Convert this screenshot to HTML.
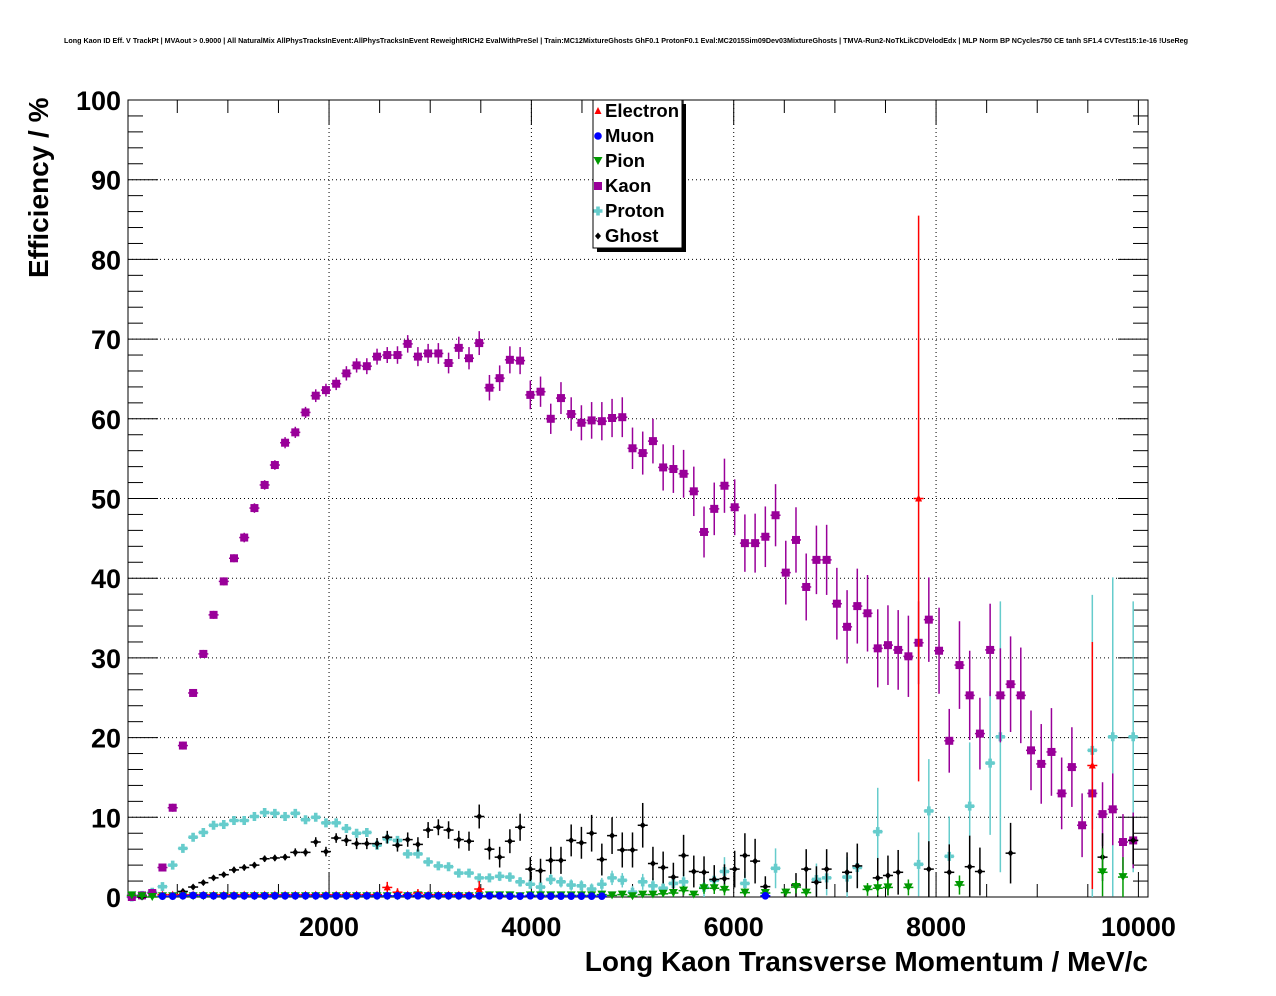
<!DOCTYPE html>
<html><head><meta charset="utf-8"><style>
body{margin:0;background:#fff;}
svg{display:block;font-family:"Liberation Sans",Arial,sans-serif;}
</style></head><body>
<svg id="chart" width="1276" height="996" viewBox="0 0 1276 996" xmlns="http://www.w3.org/2000/svg">
<rect width="1276" height="996" fill="#fff"/>
<text x="64" y="43" font-size="7" font-weight="bold" textLength="1124" lengthAdjust="spacingAndGlyphs">Long Kaon ID Eff. V TrackPt | MVAout &gt; 0.9000 | All NaturalMix AllPhysTracksInEvent:AllPhysTracksInEvent ReweightRICH2 EvalWithPreSel | Train:MC12MixtureGhosts GhF0.1 ProtonF0.1 Eval:MC2015Sim09Dev03MixtureGhosts | TMVA-Run2-NoTkLikCDVelodEdx | MLP Norm BP NCycles750 CE tanh SF1.4 CVTest15:1e-16 !UseReg</text>
<g id="grid"></g>
<g id="axes"></g>
<g id="marks"></g>
<text transform="translate(48,278) rotate(-90)" font-size="28" font-weight="bold">Efficiency / %</text>
<text x="1148" y="971" text-anchor="end" font-size="28" font-weight="bold">Long Kaon Transverse Momentum / MeV/c</text>
<g id="legend"></g>
</svg>
<script>
const xTicks=[2000,4000,6000,8000,10000];
const yTicks=[0,10,20,30,40,50,60,70,80,90,100];
const N=null;
const kaon=[0,0.2,0.5,3.7,11.2,19.0,25.6,30.5,35.4,39.6,42.5,45.1,48.8,51.7,54.2,57.0,58.3,60.8,62.9,63.6,64.4,65.7,66.7,66.6,67.8,68.0,68.0,69.4,67.8,68.2,68.2,67.0,68.9,67.6,69.5,63.9,65.1,67.4,67.3,63.0,63.4,60.0,62.6,60.6,59.5,59.8,59.7,60.1,60.2,56.3,55.7,57.2,53.9,53.7,53.1,50.9,45.8,48.7,51.6,48.9,44.4,44.4,45.2,47.9,40.7,44.8,38.9,42.3,42.3,36.8,33.9,36.5,35.6,31.2,31.6,31.0,30.2,31.9,34.8,30.9,19.6,29.1,25.3,20.5,31.0,25.3,26.7,25.3,18.4,16.7,18.2,13.0,16.3,9.0,13.0,10.4,11.0,6.9,7.1,N];
const kaonErr=[0,0.2,0.3,0.4,0.5,0.5,0.5,0.5,0.5,0.5,0.5,0.6,0.6,0.6,0.6,0.7,0.7,0.7,0.8,0.8,0.8,0.9,0.9,1,1,1,1.1,1.1,1.2,1.2,1.3,1.3,1.4,1.4,1.5,1.6,1.6,1.7,1.7,1.8,1.9,1.9,2,2.1,2.2,2.3,2.4,2.4,2.5,2.6,2.7,2.8,2.9,3,3,3.1,3.2,3.3,3.4,3.5,3.6,3.7,3.8,3.9,4,4.1,4.2,4.3,4.4,4.5,4.6,4.7,4.8,4.9,5,5,5.1,5.2,5.3,5.4,4,5.5,5.6,4.5,5.8,5.9,6,6,5,5,5.5,4.5,5,4,4.5,4,4.5,3.5,3.5,0];
const proton=[0,0.2,0.6,1.3,4.0,6.1,7.5,8.1,9.0,9.1,9.6,9.6,10.1,10.6,10.5,10.1,10.5,9.7,10.0,9.3,9.3,8.6,8.0,8.1,6.5,7.3,7.1,5.4,5.4,4.4,3.9,3.8,3.0,3.0,2.4,2.4,2.6,2.5,1.9,1.6,1.25,2.2,1.9,1.5,1.4,1.0,1.6,2.4,2.1,0.6,1.9,1.4,1.1,1.7,1.9,N,1.2,2.1,3.2,N,1.7,N,N,3.6,N,N,N,2.2,2.4,N,2.5,3.7,N,8.2,N,N,N,4.1,10.8,N,5.1,N,11.4,N,16.8,20.1,N,N,N,N,N,N,N,N,18.4,N,20.1,N,20.1,N];
const protonErr=[0,0.2,0.3,0.3,0.4,0.4,0.4,0.4,0.4,0.4,0.4,0.4,0.4,0.4,0.4,0.4,0.4,0.4,0.4,0.4,0.4,0.4,0.4,0.4,0.4,0.5,0.5,0.5,0.5,0.5,0.5,0.5,0.5,0.5,0.5,0.5,0.6,0.6,0.6,0.6,0.6,0.7,0.7,0.7,0.7,0.7,0.8,0.9,0.9,0.8,1,1,1,1.2,1.3,0,1.3,1.5,1.8,0,1.5,0,0,2.5,0,0,0,2,2.2,0,2.5,2.5,0,5.5,0,0,0,4,6.5,0,5,0,8,0,9,17,0,0,0,0,0,0,0,0,19.5,0,20,0,17,0];
const ghost=[N,0,N,N,N,0.7,1.25,1.8,2.4,2.8,3.4,3.7,4.0,4.8,4.9,5.0,5.6,5.6,6.9,5.7,7.4,7.1,6.7,6.7,6.7,7.5,6.5,7.2,6.6,8.4,8.75,8.4,7.2,7.0,10.1,6.0,5.0,7.0,8.75,3.5,3.3,4.6,4.6,7.1,6.8,8.0,4.7,7.7,5.9,5.9,9.0,4.2,3.7,2.5,5.2,3.2,3.1,2.2,2.3,3.5,5.2,4.5,1.3,N,N,1.5,3.5,1.85,3.5,N,3.1,3.9,N,2.4,2.7,3.1,N,N,3.5,N,3.1,N,3.8,3.2,N,N,5.5,N,N,N,N,N,N,N,N,5.0,N,N,7.1,N];
const ghostErr=[0,0.3,0,0,0,0.3,0.3,0.3,0.3,0.3,0.4,0.4,0.4,0.4,0.4,0.4,0.5,0.5,0.6,0.6,0.6,0.7,0.7,0.7,0.7,0.8,0.8,0.9,0.9,1,1,1.1,1.1,1.2,1.5,1.3,1.3,1.5,1.7,1.5,1.5,1.7,1.7,2,2,2.3,2,2.3,2.2,2.2,2.8,2.1,2,1.8,2.6,2,2,1.8,1.8,2.3,2.8,2.8,1.3,0,0,1.5,2.5,2,2.5,0,2.5,2.8,0,2.5,2.5,2.8,0,0,3.5,0,3.5,0,3.9,3,0,0,3.8,0,0,0,0,0,0,0,0,3,0,0,3,0];
const pion=[0.2,0.1,0,0.1,0.1,0.1,0.1,0.1,0.1,0.1,0.1,0.1,0.1,0.1,0.1,0.1,0.1,0.1,0.1,0.1,0.1,0.1,0.1,0.1,0.1,0.1,0.1,0.1,0.2,0.1,0.1,0.1,0.1,0.1,0.1,0.2,0.2,0.2,0.1,0.2,0.2,0.2,0.2,0.2,0.2,0.2,0.3,0.2,0.3,0.1,0.3,0.3,0.4,0.5,0.8,0.3,1.1,1.1,0.9,N,0.55,N,0.5,N,0.55,1.25,0.55,N,N,N,N,N,0.95,1.1,1.2,N,1.2,N,N,N,N,1.5,N,N,N,N,N,N,N,N,N,N,N,N,N,3.1,N,2.5,N,N];
const pionErr=[0.1,0.1,0,0.1,0.1,0.1,0.1,0.1,0.1,0.1,0.1,0.1,0.1,0.1,0.1,0.1,0.1,0.1,0.1,0.1,0.1,0.1,0.1,0.1,0.1,0.1,0.1,0.1,0.2,0.1,0.1,0.1,0.1,0.1,0.1,0.2,0.2,0.2,0.1,0.2,0.2,0.2,0.2,0.2,0.2,0.2,0.3,0.2,0.3,0.1,0.3,0.3,0.4,0.5,0.6,0.3,0.7,0.7,0.7,0,0.5,0,0.5,0,0.5,0.8,0.5,0,0,0,0,0,0.8,0.9,1,0,1,0,0,0,0,1.2,0,0,0,0,0,0,0,0,0,0,0,0,0,3,0,2.5,0,0];
const muon=[N,N,N,0.1,0.1,0.15,0.2,0.2,0.15,0.15,0.15,0.15,0.15,0.15,0.15,0.15,0.15,0.15,0.15,0.15,0.15,0.15,0.15,0.15,0.15,0.15,0.15,0.15,0.15,0.15,0.15,0.15,0.15,0.15,0.15,0.15,0.15,0.1,0.1,0.15,0.1,0.1,0.1,0.1,0.1,0.1,0.1,N,N,N,N,N,N,N,N,N,N,N,N,N,N,N,0.15,N,N,N,N,N,N,N,N,N,N,N,N,N,N,N,N,N,N,N,N,N,N,N,N,N,N,N,N,N,N,N,N,N,N,N,N,N];
const electron=[N,N,N,0.3,0.3,0.3,0.3,0.3,0.3,0.3,0.3,0.3,0.3,0.3,0.3,0.3,0.3,0.3,0.3,0.3,0.3,0.3,0.3,0.3,0.3,1.2,0.6,0.3,0.5,0.3,0.3,0.3,0.3,0.3,1.0,N,N,N,N,N,N,N,N,N,N,N,N,N,N,N,N,N,N,N,N,N,N,N,N,N,N,N,N,N,N,N,N,N,N,N,N,N,N,N,N,N,N,50,N,N,N,N,N,N,N,N,N,N,N,N,N,N,N,N,16.5,N,N,N,N,N];
const electronErr=[0,0,0,0.2,0.2,0.2,0.2,0.2,0.2,0.2,0.2,0.2,0.2,0.2,0.2,0.2,0.2,0.2,0.2,0.2,0.2,0.2,0.2,0.2,0.2,0.7,0.5,0.3,0.5,0.3,0.3,0.3,0.3,0.3,1,0,0,0,0,0,0,0,0,0,0,0,0,0,0,0,0,0,0,0,0,0,0,0,0,0,0,0,0,0,0,0,0,0,0,0,0,0,0,0,0,0,0,35.5,0,0,0,0,0,0,0,0,0,0,0,0,0,0,0,0,15.5,0,0,0,0,0];

const NS='http://www.w3.org/2000/svg';
const L=128,R=1148,T=100,B=897;
const X0=126.7,XS=0.10117;
function xPix(v){return X0+v*XS;}
function yPix(v){return B-(v/100)*(B-T);}
function binCenter(k){return 50.5+101*k;}
function mk(tag,attrs,parent){const e=document.createElementNS(NS,tag);for(const a in attrs)e.setAttribute(a,attrs[a]);parent.appendChild(e);return e;}
const grid=document.getElementById('grid'),axes=document.getElementById('axes'),marks=document.getElementById('marks'),legend=document.getElementById('legend');

yTicks.forEach(t=>{const y=yPix(t);
 if(t>0&&t<100){const g=mk('line',{x1:L,x2:R,y1:y,y2:y,stroke:'#000','stroke-width':1,'stroke-dasharray':'1,3'},grid);
 
 }
 const lb=mk('text',{x:121,y:y+10,'text-anchor':'end','font-size':27,'font-weight':'bold'},axes);lb.textContent=t;
 
 
 mk('line',{x1:L,x2:L+30,y1:y,y2:y,stroke:'#000'},axes);mk('line',{x1:R-30,x2:R,y1:y,y2:y,stroke:'#000'},axes);
 if(t<100){for(let m=1;m<5;m++){const ym=yPix(t+2*m);mk('line',{x1:L,x2:L+15,y1:ym,y2:ym,stroke:'#000'},axes);mk('line',{x1:R-15,x2:R,y1:ym,y2:ym,stroke:'#000'},axes);}}
});
xTicks.forEach(t=>{const x=xPix(t);
 if(t<10000){const g=mk('line',{x1:x,x2:x,y1:T,y2:B,stroke:'#000','stroke-width':1,'stroke-dasharray':'1,3'},grid);
 
 }
 const lb=mk('text',{x:x,y:936,'text-anchor':'middle','font-size':27,'font-weight':'bold'},axes);lb.textContent=t;
 
 
});
for(let v=500;v<=10050;v+=500){const x=xPix(v);if(x>R)break;const h=(v%2000===0)?25:13;
 mk('line',{x1:x,x2:x,y1:B,y2:B-h,stroke:'#000'},axes);mk('line',{x1:x,x2:x,y1:T,y2:T+h,stroke:'#000'},axes);}
const fr=mk('rect',{x:L,y:T,width:R-L,height:B-T,fill:'none',stroke:'#000','stroke-width':1},axes);



function marker(shape,color,x,y,g){
 if(shape==='tri')mk('path',{d:`M${x-3.5},${y+3} L${x+3.5},${y+3} L${x},${y-4} Z`,fill:color},g);
 else if(shape==='circ')mk('circle',{cx:x,cy:y,r:3.8,fill:color},g);
 else if(shape==='dtri')mk('path',{d:`M${x-4.5},${y-4} L${x+4.5},${y-4} L${x},${y+4} Z`,fill:color},g);
 else if(shape==='sq')mk('rect',{x:x-4,y:y-4,width:8,height:8,fill:color},g);
 else if(shape==='cross')mk('path',{d:`M${x-1.8},${y-4.5}h3.6v2.7h2.7v3.6h-2.7v2.7h-3.6v-2.7h-2.7v-3.6h2.7z`,fill:color},g);
 else if(shape==='dia')mk('path',{d:`M${x},${y-3.5} L${x+3},${y} L${x},${y+3.5} L${x-3},${y} Z`,fill:color},g);
}
function series(name,vals,errs,color,shape){
 const g=mk('g',{},marks);
 
 
 vals.forEach((v,k)=>{if(v===null)return;const x=xPix(binCenter(k)),y=yPix(v);if(x>R)return;
  const e=errs[k]||0;
  if(e>0){const y1=Math.max(T,yPix(Math.min(100,v+e))),y2=Math.min(B,yPix(Math.max(0,v-e)));mk('line',{x1:x,x2:x,y1:y1,y2:y2,stroke:color,'stroke-width':1.5},g);}
  mk('line',{x1:x-5,x2:x+5,y1:y,y2:y,stroke:color,'stroke-width':1.5},g);
  marker(shape,color,x,y,g);
 });
}
series('proton',proton,protonErr,'#66cccc','cross');
series('kaon',kaon,kaonErr,'#990099','sq');
series('ghost',ghost,ghostErr,'#000000','dia');
series('pion',pion,pionErr,'#009900','dtri');
series('electron',electron,electronErr,'#ff0000','tri');
series('muon',muon,muon.map(()=>0),'#0000ff','circ');

mk('rect',{x:597,y:104,width:89,height:148,fill:'#000'},legend);
mk('rect',{x:593,y:100,width:89,height:148,fill:'#fff',stroke:'#000'},legend);
const entries=[['Electron','#ff0000','tri'],['Muon','#0000ff','circ'],['Pion','#009900','dtri'],['Kaon','#990099','sq'],['Proton','#66cccc','cross'],['Ghost','#000000','dia']];
entries.forEach((en,i)=>{const y=111+25*i;const g=mk('g',{},legend);
 
 
 marker(en[2],en[1],598,y,g);
 const t=mk('text',{x:605,y:y+6,'font-size':18.5,'font-weight':'bold'},g);t.textContent=en[0];});
</script>
</body></html>
